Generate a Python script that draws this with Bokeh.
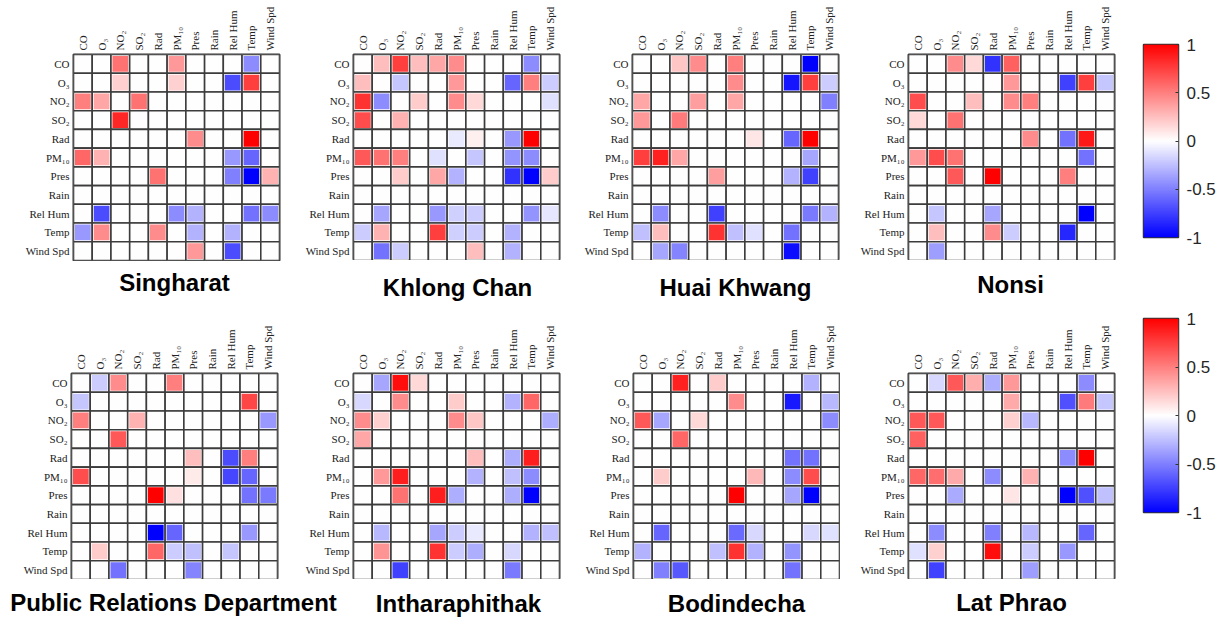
import numpy as np
from bokeh.plotting import figure
from bokeh.layouts import row, column
from bokeh.models import LinearColorMapper, FixedTicker, ColumnDataSource, FactorRange
from bokeh.core.properties import value
from bokeh.transform import transform
from bokeh.embed import file_html
from bokeh.resources import INLINE

variables = ["CO", "O₃", "NO₂", "SO₂", "Rad", "PM₁₀", "Pres", "Rain", "Rel Hum", "Temp", "Wind Spd"]
stations = ["Singharat", "Khlong Chan", "Huai Khwang", "Nonsi",
            "Public Relations Department", "Intharaphithak", "Bodindecha", "Lat Phrao"]
cbar_ticks = [-1, -0.5, 0, 0.5, 1]
cbar_labels = ["-1", "-0.5", "0", "0.5", "1"]

Z = [0] * 11

singharat = [
    [0, 0, 0.55, 0, 0, 0.4, 0, 0, 0, -0.45, 0],
    [0, 0, 0.18, 0, 0, 0.18, 0, 0, -0.7, 0.75, 0],
    [0.5, 0.35, 0, 0.55, 0, 0, 0, 0, 0, 0, 0],
    [0, 0, 0.85, 0, 0, 0, 0, 0, 0, 0, 0],
    [0, 0, 0, 0, 0, 0, 0.45, 0, 0, 1.0, 0],
    [0.6, 0.3, 0, 0, 0, 0, 0, 0, -0.4, -0.6, 0],
    [0, 0, 0, 0, 0.55, 0, 0, 0, -0.5, -1.0, 0.3],
    Z,
    [0, -0.7, 0, 0, 0, -0.45, -0.3, 0, 0, -0.55, -0.45],
    [-0.4, 0.45, 0, 0, 0.45, 0, -0.3, 0, -0.3, 0, 0],
    [0, 0, 0, 0, 0, 0, 0.4, 0, -0.7, 0, 0],
]
khlong_chan = [
    [0, 0.25, 0.75, 0.25, 0.35, 0.45, 0, 0, 0, -0.45, 0],
    [0.25, 0, -0.22, 0, 0, 0.4, 0, 0, -0.6, 0.5, -0.2],
    [0.8, -0.45, 0, 0.2, 0, 0.45, 0.15, 0, 0, 0, -0.12],
    [0.7, 0, 0.3, 0, 0, 0, 0, 0, 0, 0, 0],
    [0, 0, 0, 0, 0, -0.08, 0.06, 0, -0.4, 1.0, 0],
    [0.65, 0.55, 0.5, 0, -0.12, 0, -0.22, 0, -0.42, -0.45, 0],
    [0, 0, 0.2, 0, 0.35, -0.3, 0, 0, -0.8, -1.0, 0.2],
    Z,
    [0, -0.35, 0, 0, -0.4, -0.18, -0.2, 0, 0, -0.42, -0.1],
    [-0.2, 0.3, 0, 0, 0.75, -0.18, -0.2, 0, -0.3, 0, 0],
    [0, -0.55, -0.2, 0, 0, 0, 0.25, 0, -0.3, 0, 0],
]
huai_khwang = [
    [0, 0, 0.22, 0.45, 0, 0.5, 0, 0, 0, -1.0, 0],
    [0, 0, 0, 0, 0, 0.45, 0, 0, -0.92, 0.75, -0.2],
    [0.35, 0, 0, 0.38, 0, 0.35, 0, 0, 0, 0, -0.5],
    [0.4, 0, 0.52, 0, 0, 0, 0, 0, 0, 0, 0],
    [0, 0, 0, 0, 0, 0, 0.1, 0, -0.6, 1.0, 0],
    [0.75, 0.87, 0.35, 0, 0, 0, 0, 0, 0, -0.35, 0],
    [0, 0, 0, 0, 0.38, 0, 0, 0, -0.3, -0.75, 0],
    Z,
    [0, -0.45, 0, 0, -0.75, 0, 0, 0, 0, -0.52, -0.3],
    [-0.25, 0.25, 0, 0, 0.8, -0.25, -0.12, 0, -0.55, 0, 0],
    [0, -0.35, -0.48, 0, 0, 0, 0, 0, -0.95, 0, 0],
]
nonsi = [
    [0, 0, 0.45, 0.15, -0.8, 0.62, 0, 0, 0, 0, 0],
    [0, 0, 0, 0, 0, 0.4, 0, 0, -0.75, 0.75, -0.22],
    [0.7, 0, 0, 0.25, 0, 0.45, 0.5, 0, 0, 0, 0],
    [0.15, 0, 0.55, 0, 0, 0, 0, 0, 0, 0, 0],
    [0, 0, 0, 0, 0, 0, 0.45, 0, -0.55, 0.9, 0],
    [0.4, 0.7, 0.55, 0, 0, 0, 0, 0, 0, -0.55, 0],
    [0, 0, 0.65, 0, 1.0, 0, 0, 0, 0.5, 0, 0],
    Z,
    [0, -0.22, 0, 0, -0.35, 0, 0, 0, 0, -1.0, 0],
    [0, 0.25, 0, 0, 0.45, -0.2, 0, 0, -0.85, 0, 0],
    [0, -0.38, 0, 0, 0, 0, 0, 0, 0, 0, 0],
]
public_relations = [
    [0, -0.2, 0.45, 0, 0, 0.5, 0, 0, 0, 0, 0],
    [-0.22, 0, 0, 0, 0, 0, 0, 0, 0, 0.72, 0],
    [0.5, 0, 0, 0.3, 0, 0, 0, 0, 0, 0, -0.4],
    [0, 0, 0.65, 0, 0, 0, 0, 0, 0, 0, 0],
    [0, 0, 0, 0, 0, 0, 0.25, 0, -0.7, 0.5, 0],
    [0.7, 0, 0, 0, 0, 0, 0.08, 0, -0.72, -0.6, 0],
    [0, 0, 0, 0, 1.0, 0.12, 0, 0, 0, -0.55, -0.52],
    Z,
    [0, 0, 0, 0, -1.0, -0.6, 0, 0, 0, -0.4, 0],
    [0, 0.2, 0, 0, 0.6, -0.2, -0.25, 0, -0.22, 0, 0],
    [0, 0, -0.55, 0, 0, 0, -0.48, 0, 0, 0, 0],
]
intharaphithak = [
    [0, -0.35, 0.95, 0.15, 0, 0, 0, 0, 0, 0, 0],
    [-0.15, 0, 0.45, 0, 0, 0.2, 0, 0, -0.3, 0.6, 0],
    [0.45, 0.18, 0, 0, 0, 0.45, 0.22, 0, 0, 0, -0.32],
    [0.35, 0, 0, 0, 0, 0, 0, 0, 0, 0, 0],
    [0, 0, 0, 0, 0, 0, 0.25, 0, -0.32, 0.88, 0],
    [0, 0.4, 0.88, 0, 0, 0, -0.3, 0, -0.25, -0.45, 0],
    [0, 0, 0.55, 0, 0.88, -0.32, 0, 0, -0.32, -1.0, 0],
    Z,
    [0, -0.28, 0, 0, -0.35, -0.2, -0.08, 0, 0, -0.3, -0.25],
    [0, 0.42, 0, 0, 0.8, -0.2, -0.32, 0, -0.15, 0, 0],
    [0, 0, -0.75, 0, 0, 0, 0, 0, -0.52, 0, 0],
]
bodindecha = [
    [0, 0, 0.87, 0, 0.2, 0, 0, 0, 0, -0.3, 0],
    [0, 0, 0, 0, 0, 0.45, 0, 0, -0.9, 0, -0.28],
    [0.65, -0.35, 0, 0.15, 0, 0, 0, 0, 0, 0, -0.45],
    [0, 0, 0.6, 0, 0, 0, 0, 0, 0, 0, 0],
    [0, 0, 0, 0, 0, 0, 0, 0, -0.55, -0.55, 0],
    [0, 0.2, 0, 0, 0, 0, 0.28, 0, -0.45, 0.7, 0],
    [0, 0, 0, 0, 0, 1.0, 0, 0, -0.35, -1.0, 0],
    Z,
    [0, -0.6, 0, 0, 0, -0.58, -0.15, 0, 0, -0.15, -0.12],
    [-0.3, 0, 0, 0, -0.25, 0.8, -0.3, 0, -0.42, 0, 0],
    [0, -0.5, -0.65, 0, 0, 0, 0, 0, -0.55, 0, 0],
]
lat_phrao = [
    [0, -0.15, 0.65, 0.32, -0.32, 0.4, 0, 0, 0, -0.45, 0],
    [0, 0, 0, 0, 0, 0.33, 0, 0, -0.68, 0.52, -0.22],
    [0.65, 0.65, 0, 0, 0, 0.18, -0.28, 0, 0, 0, 0],
    [0.62, 0, 0, 0, 0, 0, 0, 0, 0, 0, 0],
    [0, 0, 0, 0, 0, 0, 0, 0, -0.45, 1.0, 0],
    [0.6, 0.57, 0.33, 0, -0.45, 0, 0.3, 0, 0, 0, 0],
    [0, 0, -0.33, 0, 0, 0.1, 0, 0, -1.0, -0.68, -0.25],
    Z,
    [0, -0.45, 0, 0, -0.5, 0, -0.28, 0, 0, -0.6, 0],
    [-0.12, 0.18, 0, 0, 0.95, 0, -0.2, 0, -0.4, 0, 0],
    [0, -0.75, 0, 0, 0, 0, -0.38, 0, 0, 0, 0],
]
matrices = [singharat, khlong_chan, huai_khwang, nonsi,
            public_relations, intharaphithak, bodindecha, lat_phrao]

# ---- layout constants (pixels) ----
FRAME = 206
LEFT_W = 1120
TOP_LEFT = [73, 69, 69, 68]
TOP_RIGHT = [5, 4, 2, 6]
TOP_TOP = [50, 54, 54, 54]
BOT_LEFT = [71, 72, 70, 68]
BOT_RIGHT = [4, 4, 1, 6]
TOP_ROW_H = 260
BOT_TOP = 62
STRIP1_H = 50
STRIP2_H = 40
TOP_TITLE_X = [174, 457, 735, 1010]
TOP_TITLE_Y = [29, 24, 24, 27]
BOT_TITLE_X = [173, 458, 736, 1011]
BOT_TITLE_Y = [17, 16, 16, 17]

# blue-white-red colormap
palette = []
for k in range(256):
    t = k / 255 * 2 - 1
    if t < 0:
        c = int(round(255 * (1 + t)))
        palette.append("#%02x%02x%02x" % (c, c, 255))
    else:
        c = int(round(255 * (1 - t)))
        palette.append("#%02x%02x%02x" % (255, c, c))
mapper = LinearColorMapper(palette=palette, low=-1, high=1)

LABEL_FONT = "Liberation Serif"


def panel(mat, left, right, top, bottom):
    xs, ys, vs = [], [], []
    for i, r in enumerate(variables):
        for j, c in enumerate(variables):
            xs.append(c)
            ys.append(r)
            vs.append(mat[i][j])
    src = ColumnDataSource(dict(x=xs, y=ys, v=vs))
    p = figure(frame_width=FRAME, frame_height=FRAME,
               x_range=FactorRange(*variables), y_range=FactorRange(*variables[::-1]),
               x_axis_location="above", output_backend="svg", toolbar_location=None,
               min_border_left=left, min_border_right=right, min_border_top=top,
               min_border_bottom=bottom)
    p.rect("x", "y", 1, 1, source=src, fill_color="white", line_color="#3c3c3c", line_width=1.6)
    p.rect("x", "y", 0.84, 0.84, source=src, fill_color=transform("v", mapper), line_color=None)
    p.xaxis.major_label_orientation = np.pi / 2
    for ax in (p.xaxis, p.yaxis):
        ax.major_tick_line_color = None
        ax.major_tick_out = 0
        ax.major_tick_in = 0
        ax.minor_tick_line_color = None
        ax.axis_line_color = None
        ax.major_label_text_font = LABEL_FONT
        ax.major_label_text_font_size = "11px"
        ax.major_label_text_color = "#222222"
        ax.major_label_standoff = 4
    p.grid.grid_line_color = None
    p.outline_line_color = "#333333"
    p.outline_line_width = 2
    return p


def colorbar(top, height, total):
    p = figure(frame_width=35, frame_height=height, x_range=(0, 1), y_range=(-1, 1),
               y_axis_location="right", output_backend="svg", toolbar_location=None,
               min_border_left=23, min_border_right=53, min_border_top=top,
               min_border_bottom=total - top - height)
    grad = np.linspace(-1, 1, 256).reshape(256, 1)
    p.image(image=[grad], x=0, y=-1, dw=1, dh=2, color_mapper=mapper)
    p.xaxis.visible = False
    p.grid.grid_line_color = None
    ax = p.yaxis[0]
    ax.ticker = FixedTicker(ticks=cbar_ticks)
    ax.major_label_overrides = {t: l for t, l in zip(cbar_ticks, cbar_labels)}
    ax.major_tick_in = 3
    ax.major_tick_out = 0
    ax.major_tick_line_color = "#333333"
    ax.minor_tick_line_color = None
    ax.axis_line_color = None
    ax.major_label_text_font = "Liberation Sans"
    ax.major_label_text_font_size = "17px"
    ax.major_label_text_color = "#262626"
    ax.major_label_standoff = 8
    p.outline_line_color = "#333333"
    p.outline_line_width = 1.5
    return p


def title_strip(names, xs, ys, h):
    p = figure(width=LEFT_W, height=h, x_range=(0, LEFT_W), y_range=(0, h),
               output_backend="svg", toolbar_location=None, min_border=0,
               x_axis_location=None, y_axis_location=None)
    p.grid.grid_line_color = None
    p.outline_line_color = None
    src = ColumnDataSource(dict(x=xs, y=ys, t=names))
    p.text("x", "y", text="t", source=src, text_font=value("Liberation Sans"),
           text_font_size="24px", text_font_style="bold", text_color="#000000",
           text_align="center", text_baseline="alphabetic")
    return p


top_panels = [panel(matrices[k], TOP_LEFT[k], TOP_RIGHT[k], TOP_TOP[k],
                    TOP_ROW_H - TOP_TOP[k] - FRAME) for k in range(4)]
bot_panels = [panel(matrices[4 + k], BOT_LEFT[k], BOT_RIGHT[k], BOT_TOP, 0) for k in range(4)]

strip1 = title_strip(stations[:4], TOP_TITLE_X, TOP_TITLE_Y, STRIP1_H)
strip2 = title_strip(stations[4:], BOT_TITLE_X, BOT_TITLE_Y, STRIP2_H)

cb1 = colorbar(44, 193, 310)
cb2 = colorbar(8, 194, 300)

left = column(row(*top_panels, spacing=0), strip1,
              row(*bot_panels, spacing=0), strip2, spacing=0)
right = column(cb1, cb2, spacing=0)
layout = row(left, right, spacing=0)
open("out.html", "w").write(file_html(layout, INLINE))
